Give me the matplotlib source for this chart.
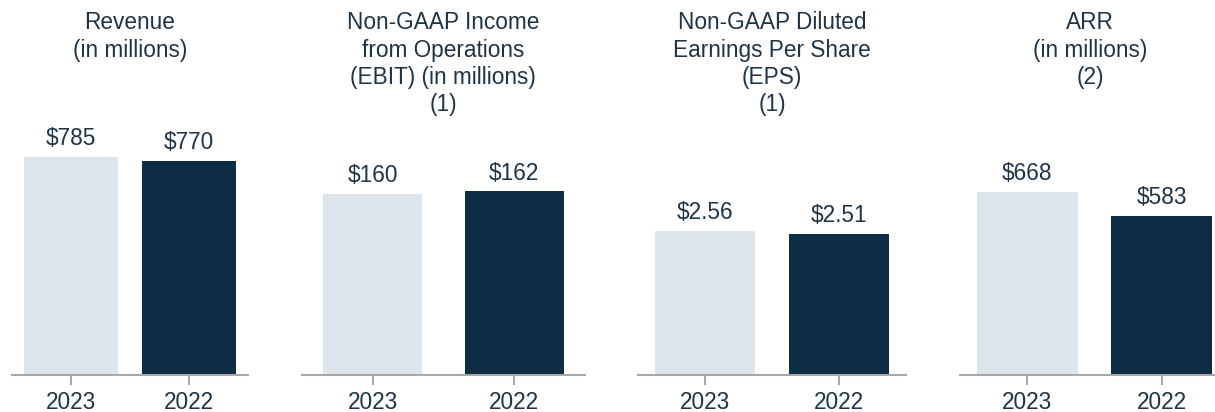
import matplotlib
matplotlib.use("Agg")
import matplotlib.pyplot as plt

plt.rcParams['font.family'] = ['Liberation Sans', 'DejaVu Sans']

### the data, one panel per metric
titles = ["Revenue\n(in millions)",
          "Non-GAAP Income\nfrom Operations\n(EBIT) (in millions)\n(1)",
          "Non-GAAP Diluted\nEarnings Per Share\n(EPS)\n(1)",
          "ARR\n(in millions)\n(2)"]
years = ["2023", "2022"]
revenue = [785, 770]
ebit = [160, 162]
eps = [2.56, 2.51]
arr = [668, 583]
labels = [["$785", "$770"], ["$160", "$162"], ["$2.56", "$2.51"], ["$668", "$583"]]
series = [revenue, ebit, eps, arr]

### layout (pixels) - figure is 1215 x 412
W, H = 1215.0, 412.0
lefts = [12, 301.7, 638, 960]
widths = [236, 283.3, 268, 269]
bar_w = [0.79, 0.70, 0.745, 0.75]
ymax = [1079, 264.8, 5.34, 1097]
title_x = [130, 443, 772, 1090]
bottom, top = 375, 75

light = "#dce4ec"
dark = "#0c2d43"
txt = "#1e3447"
grey = "#a8a8a8"
fs = 16.3

fig = plt.figure(figsize=(12.15, 4.12), dpi=100)

for i in range(4):
    ax = fig.add_axes([lefts[i] / W, (H - bottom) / H, widths[i] / W, (bottom - top) / H])
    ax.patch.set_alpha(0)
    x = range(len(years))
    bars = ax.bar(x, series[i], width=bar_w[i], color=[light, dark])
    ax.set_xlim(-0.5, 1.5)
    ax.set_ylim(0, ymax[i])
    for b, lab in zip(bars, labels[i]):
        ax.annotate(lab, (b.get_x() + b.get_width() / 2, b.get_height()),
                    xytext=(0, 5), textcoords="offset points",
                    ha="center", va="bottom", fontsize=fs, color=txt)
    ax.set_xticks(list(x))
    ax.set_xticklabels(years, fontsize=fs, color=txt)
    ax.tick_params(axis="x", length=7.5, width=1.5, color=grey, pad=4)
    ax.set_yticks([])
    for s in ["top", "right", "left"]:
        ax.spines[s].set_visible(False)
    ax.spines["bottom"].set_color(grey)
    ax.spines["bottom"].set_linewidth(1.5)
    fig.text(title_x[i] / W, 1 - 11 / H, titles[i], ha="center", va="top",
             fontsize=fs, color=txt, linespacing=1.25)

plt.savefig("out.png", dpi=100)
